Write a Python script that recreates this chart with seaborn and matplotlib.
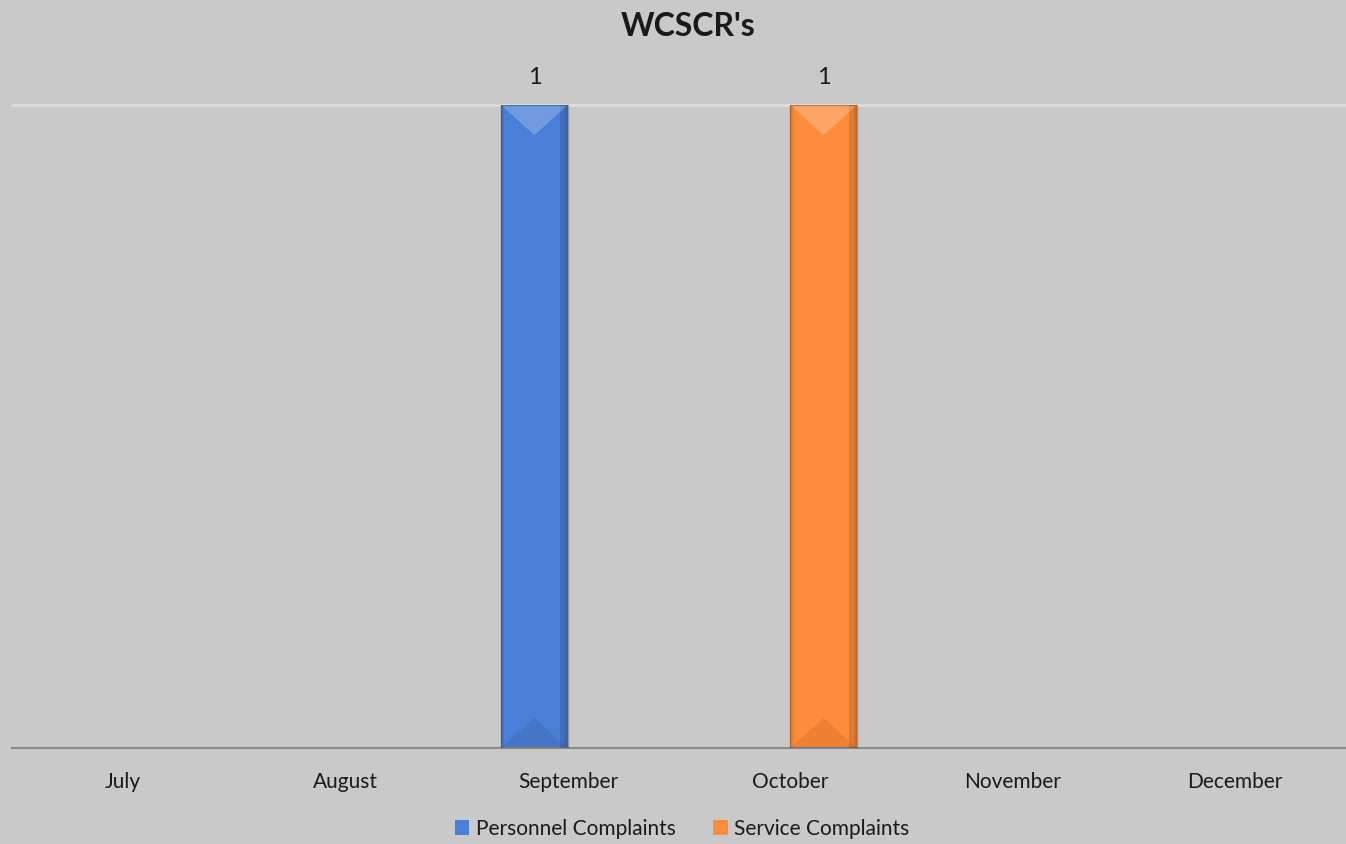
import matplotlib
matplotlib.use("Agg")
import matplotlib.pyplot as plt
from matplotlib.patches import Polygon, Rectangle
import seaborn as sns
import pandas as pd

months = ["July", "August", "September", "October", "November", "December"]
personnel = [0, 0, 1, 0, 0, 0]
service = [0, 0, 0, 1, 0, 0]
series_names = ["Personnel Complaints", "Service Complaints"]
colors = ["#4A7FD8", "#FF8C3A"]

df = pd.DataFrame({
    "Month": months * 2,
    "Count": personnel + service,
    "Series": [series_names[0]] * len(months) + [series_names[1]] * len(months),
})

sns.set_theme(style="white")
plt.rcParams["font.family"] = ["Lato", "DejaVu Sans"]

BG = "#C9C9C9"
fig = plt.figure(figsize=(13.46, 8.44), dpi=100, facecolor=BG)
ax = fig.add_axes([12 / 1346, 1 - 748 / 844, 1 - 12 / 1346, (748 - 105) / 844])
ax.set_facecolor(BG)

sns.barplot(data=df, x="Month", y="Count", hue="Series", order=months,
            hue_order=series_names, palette=colors, width=0.6, gap=0,
            linewidth=0, saturation=1, ax=ax, legend=False)

ax.set_ylim(0, 1)
ax.set_xlim(-0.5, len(months) - 0.5)
ax.set_yticks([])
ax.set_ylabel("")
ax.set_xlabel("")
for s in ["top", "right", "left"]:
    ax.spines[s].set_visible(False)
ax.spines["bottom"].set_color("#8A8A8A")
ax.spines["bottom"].set_linewidth(1.5)
ax.axhline(1, color="#DDDDDD", lw=2, zorder=0.5, clip_on=False)
ax.tick_params(axis="x", length=0, pad=17, labelsize=15, colors="#1A1A1A")

# bevelled look on each non-empty bar, plus its value label
for patch in list(ax.patches):
    h = patch.get_height()
    if h <= 0:
        continue
    x0 = patch.get_x()
    w = patch.get_width()
    x1 = x0 + w
    # darker edge strips
    ax.add_patch(Rectangle((x1 - w * 0.12, 0), w * 0.12, h, facecolor="black",
                           alpha=0.12, lw=0, zorder=3))
    ax.add_patch(Rectangle((x1 - w * 0.05, 0), w * 0.05, h, facecolor="black",
                           alpha=0.08, lw=0, zorder=3))
    ax.add_patch(Rectangle((x0, 0), w * 0.05, h, facecolor="black",
                           alpha=0.07, lw=0, zorder=3))
    # light bevel at the top
    bev = 0.047
    ax.add_patch(Polygon([(x0, h), (x1, h), (x0 + w / 2, h - bev)],
                         closed=True, facecolor="white", alpha=0.22, lw=0, zorder=3))
    # shadowed bevel at the bottom
    ax.add_patch(Polygon([(x0, 0), (x1, 0), (x0 + w / 2, bev)],
                         closed=True, facecolor="black", alpha=0.07, lw=0, zorder=3))
    ax.add_patch(Rectangle((x0, 0), w, h, facecolor="none", edgecolor="black",
                           alpha=0.25, lw=1, zorder=4))
    ax.annotate(f"{h:g}", (x0 + w / 2, h), xytext=(0, 20), textcoords="offset points",
                ha="center", va="center", fontsize=17, color="#1A1A1A",
                annotation_clip=False)

fig.text(688 / 1346, 1 - 26 / 844, "WCSCR's", ha="center", va="center",
         fontsize=23, fontweight="bold", color="#1A1A1A")

handles = [Rectangle((0, 0), 1, 1, facecolor=c, edgecolor="none") for c in colors]
fig.legend(handles, series_names, loc="center", bbox_to_anchor=(682 / 1346, 1 - 829 / 844),
           ncol=2, frameon=False, fontsize=15, handlelength=0.7, handleheight=0.7,
           handletextpad=0.3, columnspacing=1.8, labelcolor="#1A1A1A")

fig.savefig("out.png", dpi=100, facecolor=BG)
